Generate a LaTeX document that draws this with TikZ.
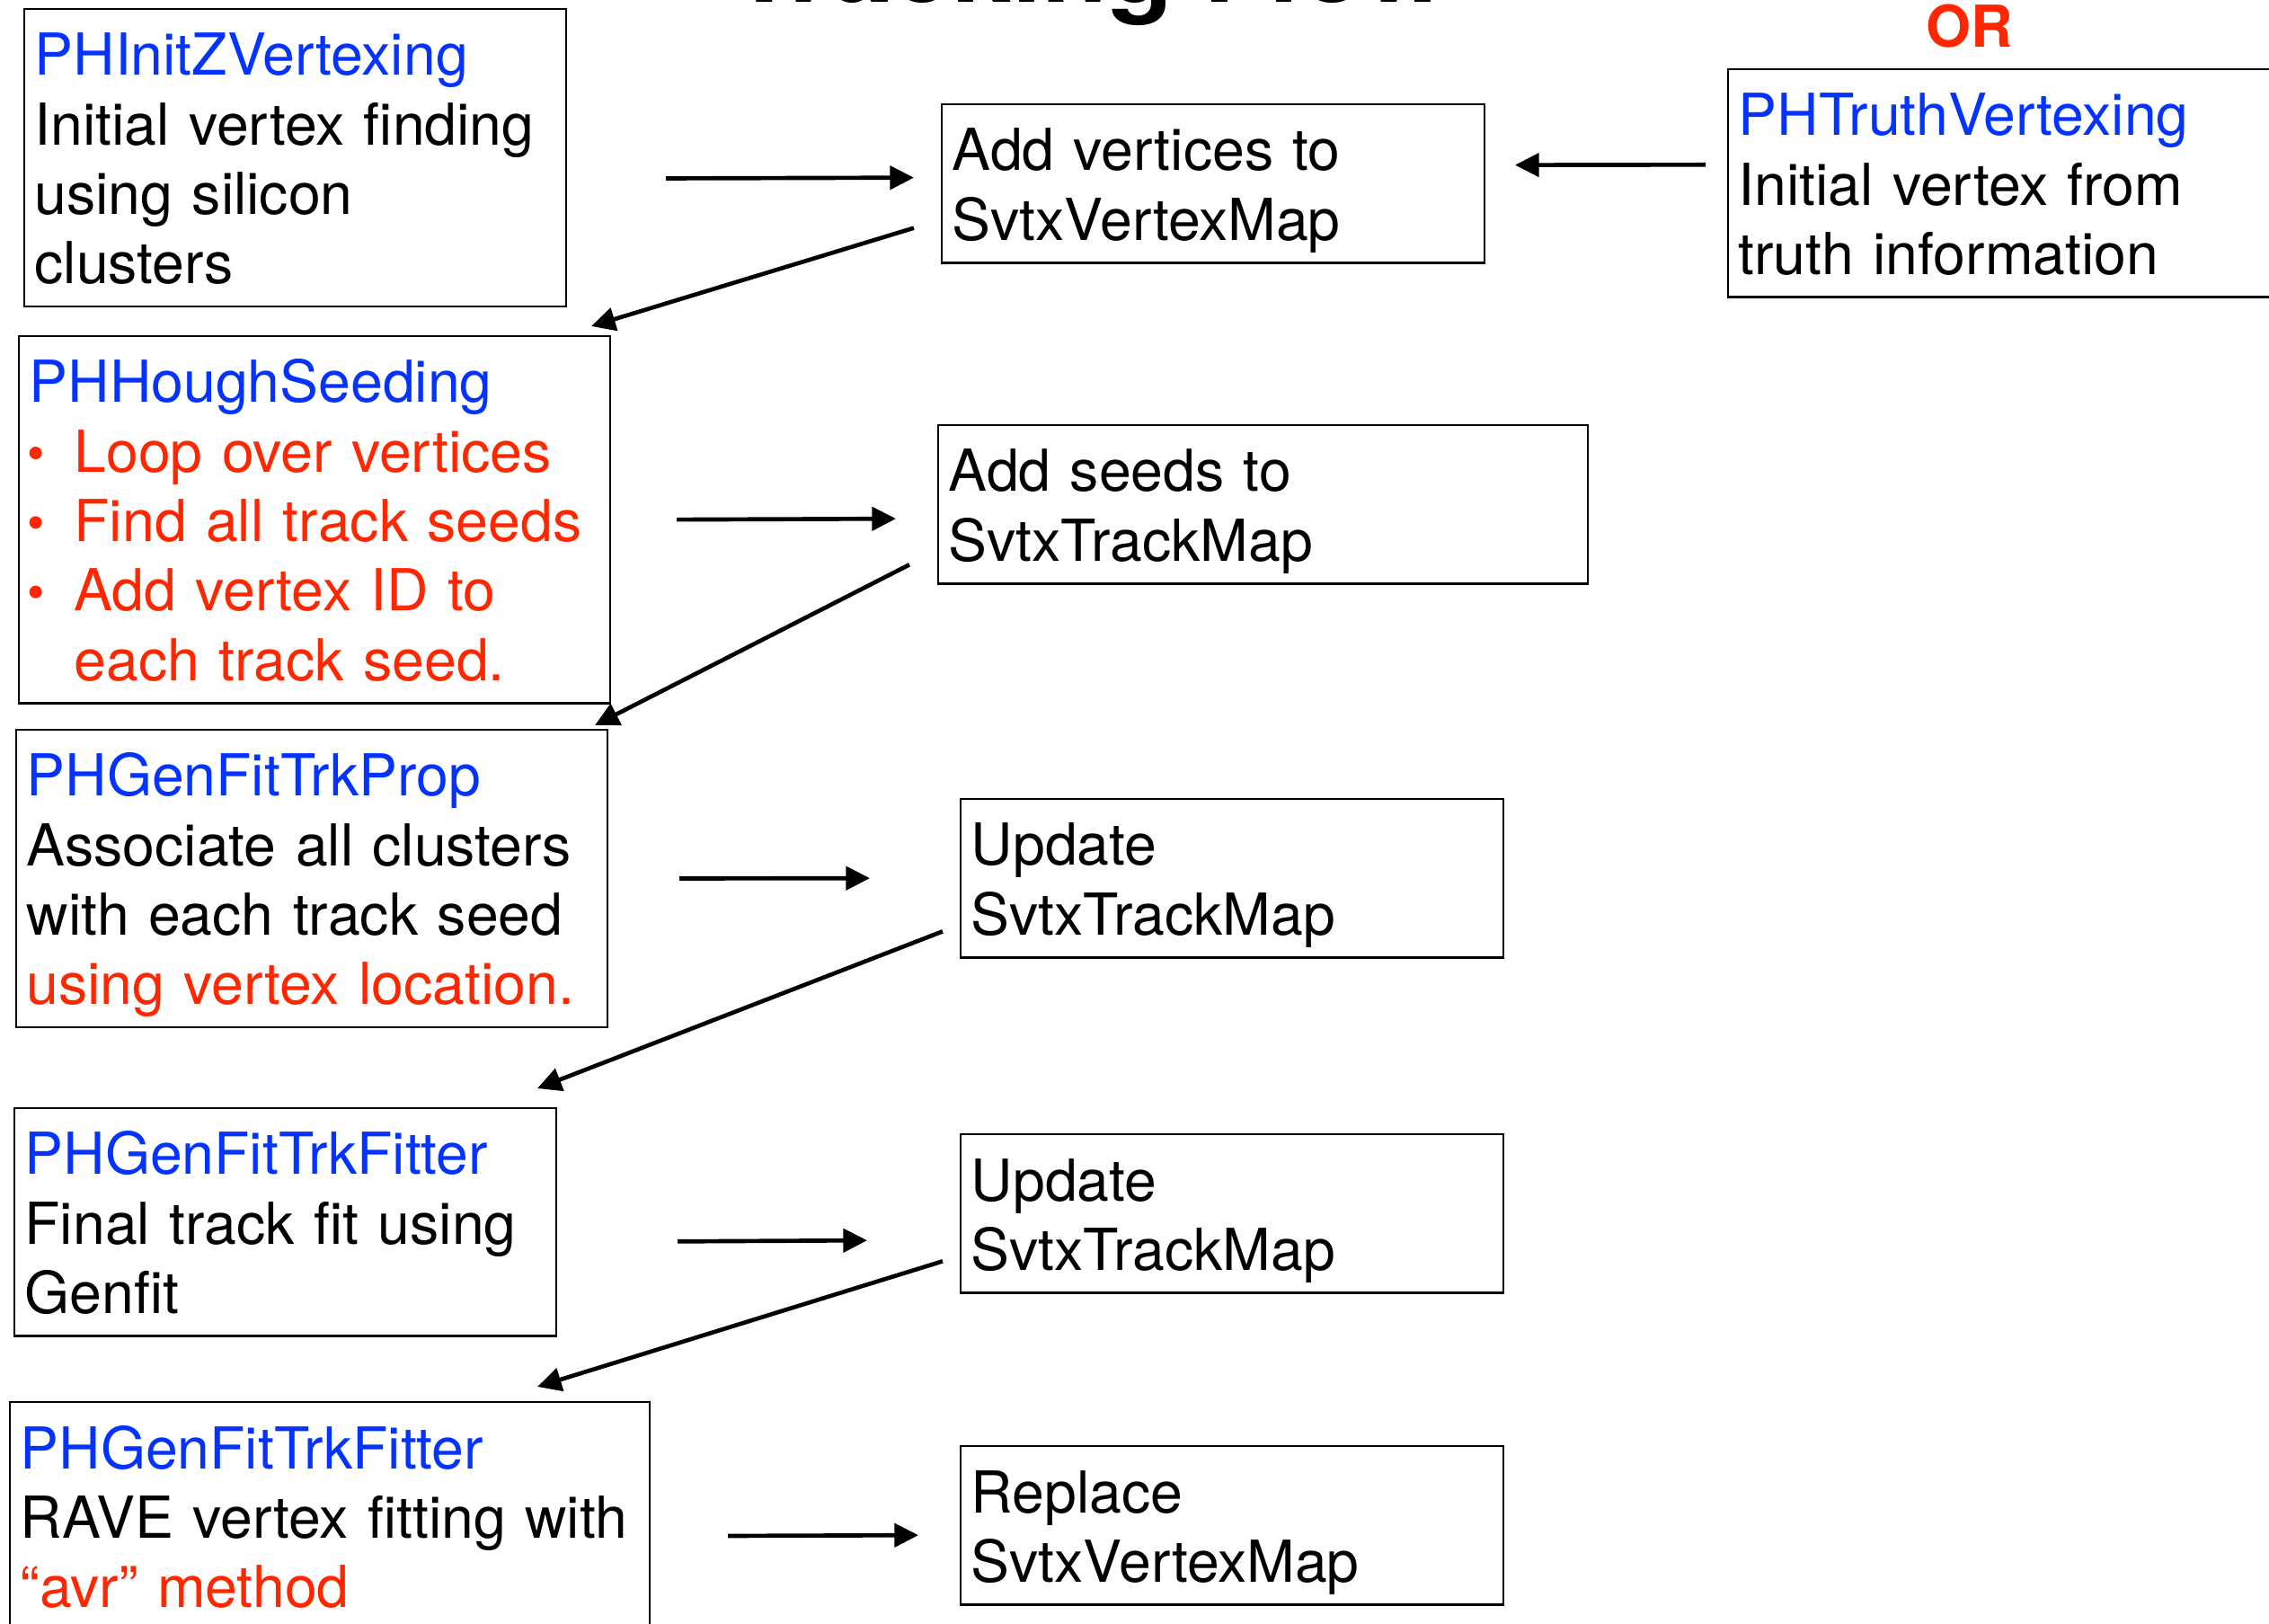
\documentclass[tikz,border=0pt]{standalone}
\usepackage{fontspec}
\setmainfont{TeX Gyre Heros}
\usetikzlibrary{arrows.meta}

\definecolor{phblue}{RGB}{4,51,255}
\definecolor{phred}{RGB}{255,38,0}

\newcommand{\modname}[1]{{\color{phblue}#1}}
\newcommand{\redtxt}[1]{{\color{phred}#1}}
\newcommand{\bitem}[1]{\makebox[15pt][l]{\tikz[baseline=0pt]\fill[phred] (2.4pt,6.4pt) circle (2.1pt);}#1}

\begin{document}
\begin{tikzpicture}[
    >={Triangle[length=8pt, width=7.8pt]},
    font=\fontsize{19.3pt}{23.2pt}\selectfont,
    box/.style={
        draw, line width=0.75pt, anchor=north west,
        inner xsep=3.5pt, inner ysep=0pt, outer sep=0pt,
        align=left, text height=22.2pt,
    },
    two/.style={text depth=30.7pt},
    three/.style={text depth=53.9pt},
    four/.style={text depth=77.1pt},
    five/.style={text depth=100.3pt},
    flow/.style={->, line width=1.4pt},
]

\useasboundingbox (0,0) rectangle (757.5pt,-542.1pt);

% column x-coordinates
\def\colM{320.7}   % update boxes
\def\colR{576.9}   % truth vertexing

% title (cut at the top) and OR
\node[font=\bfseries\fontsize{36pt}{43pt}\selectfont, anchor=base] (title) at (363.7pt,-0.9pt) {Tracking Flow};
\node[font=\bfseries\fontsize{19.3pt}{23.2pt}\selectfont, text=phred, anchor=base] (ortag) at (657.6pt,-15.9pt) {OR};

% modules (left)
\node[box, four, text width=173.9pt] (b1) at (8.1pt,-3pt) {
    \modname{PHInitZVertexing}\\
    Initial vertex finding\\
    using silicon\\
    clusters};
\node[box, five, text width=190.4pt] (b2) at (6.3pt,-112.2pt) {
    \modname{PHHoughSeeding}\\
    \redtxt{\bitem{Loop over vertices}}\\
    \redtxt{\bitem{Find all track seeds}}\\
    \redtxt{\bitem{Add vertex ID to}}\\
    \redtxt{\hspace*{15pt}each track seed.}};
\node[box, four, text width=190.4pt] (b3) at (5.4pt,-243.6pt) {
    \modname{PHGenFitTrkProp}\\
    Associate all clusters\\
    with each track seed\\
    \redtxt{using vertex location.}};
\node[box, three, text width=173.9pt] (b4) at (4.8pt,-369.9pt) {
    \modname{PHGenFitTrkFitter}\\
    Final track fit using\\
    Genfit};
\node[box, three, text width=206.6pt] (b5) at (3.3pt,-468pt) {
    \modname{PHGenFitTrkFitter}\\
    RAVE vertex fitting with\\
    \redtxt{“avr” method}};

% node maps (middle)
\node[box, two, text width=174.2pt] (v1) at (314.4pt,-34.8pt) {Add vertices to\\SvtxVertexMap};
\node[box, two, text width=209.9pt] (s1) at (313.2pt,-141.9pt) {Add seeds to\\SvtxTrackMap};
\node[box, two, text width=174.2pt] (u1) at (\colM pt,-266.7pt) {Update\\SvtxTrackMap};
\node[box, two, text width=174.2pt] (u2) at (\colM pt,-378.6pt) {Update\\SvtxTrackMap};
\node[box, two, text width=174.2pt] (rp) at (\colM pt,-482.7pt) {Replace\\SvtxVertexMap};

% alternative (right)
\node[box, three, text width=183pt] (tv) at (\colR pt,-23.1pt) {
    \modname{PHTruthVertexing}\\
    Initial vertex from\\
    truth information};

% --- flow ---
\draw[flow] ([xshift=33.3pt,yshift=-6.9pt]b1.east) -- ([xshift=-9.3pt,yshift=1.95pt]v1.west);
\draw[flow] ([xshift=-7.5pt,yshift=6.15pt]tv.west) -- ([xshift=10.2pt,yshift=6.15pt]v1.east);
\draw[flow] ([xshift=-9.3pt,yshift=-14.85pt]v1.west) -- ([xshift=-6.3pt,yshift=3.3pt]b2.north east);
\draw[flow] ([xshift=22.2pt]b2.east) -- ([xshift=-14.1pt,yshift=-4.8pt]s1.west);
\draw[flow] ([xshift=-9.6pt,yshift=6.3pt]s1.south west) -- ([xshift=-4.2pt,yshift=1.5pt]b3.north east);
\draw[flow] ([xshift=24pt]b3.east) -- ([xshift=-30.3pt]u1.west);
\draw[flow] ([xshift=-6pt,yshift=8.7pt]u1.south west) -- ([xshift=-6.3pt,yshift=6.6pt]b4.north east);
\draw[flow] ([xshift=40.5pt,yshift=-6.45pt]b4.east) -- ([xshift=-31.2pt,yshift=-9pt]u2.west);
\draw[flow] ([xshift=-6pt,yshift=10.5pt]u2.south west) -- ([xshift=-37.5pt,yshift=5.1pt]b5.north east);
\draw[flow] ([xshift=26.1pt,yshift=-6.65pt]b5.east) -- ([xshift=-14.1pt,yshift=-3.3pt]rp.west);

\end{tikzpicture}
\end{document}
